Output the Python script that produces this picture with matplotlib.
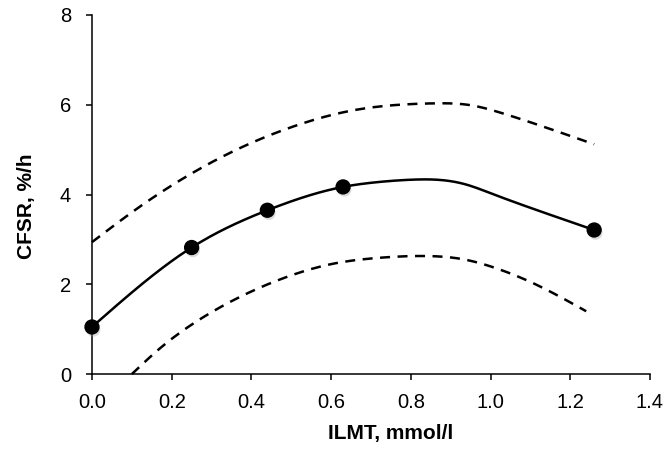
import numpy as np
import matplotlib.pyplot as plt
import matplotlib.patheffects as pe

plt.rcParams['font.family'] = ['Liberation Sans', 'DejaVu Sans']

# measured points
pts_x = [0.0, 0.25, 0.44, 0.63, 1.26]
pts_y = [1.05, 2.82, 3.65, 4.17, 3.21]

# fitted curve and its bands
fit_x = [0.0, 0.25, 0.44, 0.63, 0.72, 0.80, 0.88, 0.94, 1.00, 1.13, 1.26]
fit_y = [1.05, 2.82, 3.65, 4.17, 4.28, 4.33, 4.32, 4.22, 4.03, 3.61, 3.21]

up_x = [0.0, 0.12, 0.25, 0.37, 0.50, 0.64, 0.72, 0.85, 0.95, 1.03, 1.14, 1.26]
up_y = [2.94, 3.73, 4.47, 5.03, 5.50, 5.85, 5.96, 6.03, 5.99, 5.81, 5.49, 5.12]

lo_x = [0.10, 0.17, 0.26, 0.39, 0.51, 0.60, 0.72, 0.84, 0.93, 1.01, 1.12, 1.24]
lo_y = [0.0, 0.57, 1.16, 1.80, 2.23, 2.45, 2.59, 2.63, 2.56, 2.37, 1.97, 1.40]

xticks = [0.0, 0.2, 0.4, 0.6, 0.8, 1.0, 1.2, 1.4]
yticks = [0, 2, 4, 6, 8]


def smooth(xs, ys, n=300):
    # natural cubic spline through the points
    x = np.asarray(xs, float)
    y = np.asarray(ys, float)
    m = len(x)
    h = np.diff(x)
    A = np.zeros((m, m))
    b = np.zeros(m)
    A[0, 0] = A[-1, -1] = 1
    for i in range(1, m - 1):
        A[i, i - 1] = h[i - 1]
        A[i, i] = 2 * (h[i - 1] + h[i])
        A[i, i + 1] = h[i]
        b[i] = 6 * ((y[i + 1] - y[i]) / h[i] - (y[i] - y[i - 1]) / h[i - 1])
    M = np.linalg.solve(A, b)
    xx = np.linspace(x[0], x[-1], n)
    k = np.clip(np.searchsorted(x, xx) - 1, 0, m - 2)
    t0 = x[k + 1] - xx
    t1 = xx - x[k]
    hk = h[k]
    yy = (M[k] * t0 ** 3 + M[k + 1] * t1 ** 3) / (6 * hk) \
        + (y[k] / hk - M[k] * hk / 6) * t0 + (y[k + 1] / hk - M[k + 1] * hk / 6) * t1
    return xx, yy


fig = plt.figure(figsize=(6.68, 4.54), dpi=100)
ax = fig.add_axes([0.1377, 0.176, 0.8353, 0.791])

dash = (0, (4, 3))
ax.plot(*smooth(up_x, up_y), color='black', lw=1.8, linestyle=dash, clip_on=False)
ax.plot(*smooth(lo_x, lo_y), color='black', lw=1.8, linestyle=dash, clip_on=False)
ax.plot(*smooth(fit_x, fit_y), color='black', lw=1.8, clip_on=False)
ax.plot(pts_x, pts_y, linestyle='none', marker='o', markersize=10, color='black',
        clip_on=False, zorder=5,
        path_effects=[pe.SimplePatchShadow(offset=(1, -2), shadow_rgbFace='0.6', alpha=0.35),
                      pe.Normal()])

ax.set_xlim(0, 1.4)
ax.set_ylim(0, 8)
ax.set_xticks(xticks)
ax.set_xticklabels([f'{v:.1f}' for v in xticks])
ax.set_yticks(yticks)

for s in ['top', 'right']:
    ax.spines[s].set_visible(False)
for s in ['left', 'bottom']:
    ax.spines[s].set_linewidth(1.1)

ax.tick_params(direction='out', length=4.5, width=1.1, labelsize=14.5)
ax.tick_params(axis='x', pad=9)
ax.tick_params(axis='y', pad=10.5)
ax.set_xlabel('ILMT, mmol/l', fontsize=15, fontweight='bold')
ax.set_ylabel('CFSR, %/h', fontsize=15, fontweight='bold')
ax.xaxis.set_label_coords(0.536, -0.139)
ax.yaxis.set_label_coords(-0.1004, 0.466)

fig.savefig('out.png', dpi=100)
